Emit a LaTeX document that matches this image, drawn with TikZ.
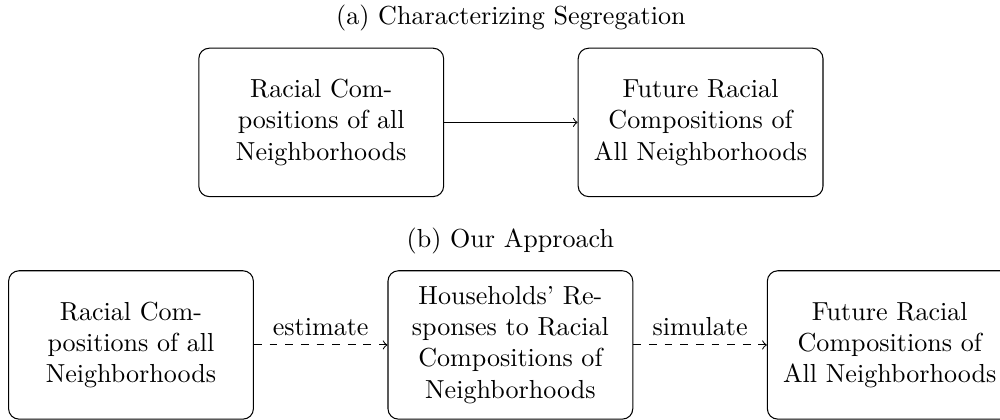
\documentclass[tikz,border=0pt]{standalone}
\usetikzlibrary{positioning}

\begin{document}
\begin{tikzpicture}[
	box/.style={draw, rounded corners, text width=3cm, align=center, minimum width=3.3cm, minimum height=2cm},
	flow/.style={->},
	guess/.style={->, dashed}
]

\def\gap{1.8cm}
\def\rowx{2.55}
\def\rowy{3}

\path [use as bounding box] (-6.88,-1.01) rectangle (6.60,4.65);

% Top row
\node [box] (cur) at (-\rowx,\rowy) {Racial Compositions of all Neighborhoods};
\node [box, right=\gap of cur] (fut) {Future Racial Compositions of All Neighborhoods};

% Bottom row
\node [box] (resp) at (0,0) {Households' Responses to Racial Compositions of Neighborhoods};
\node [box, left=\gap of resp] (now) {Racial Compositions of all Neighborhoods};
\node [box, right=\gap of resp] (later) {Future Racial Compositions of All Neighborhoods};

% Titles
\path (cur.north) -- (fut.north) node [midway, above=1mm] (tita) {(a) Characterizing Segregation};
\node [above=1mm of resp] (titb) {(b) Our Approach};

% Arrows
\draw [flow] (cur) -- (fut);
\draw [guess] (now) -- node [above] {estimate} (resp);
\draw [guess] (resp) -- node [above] {simulate} (later);

\end{tikzpicture}
\end{document}
